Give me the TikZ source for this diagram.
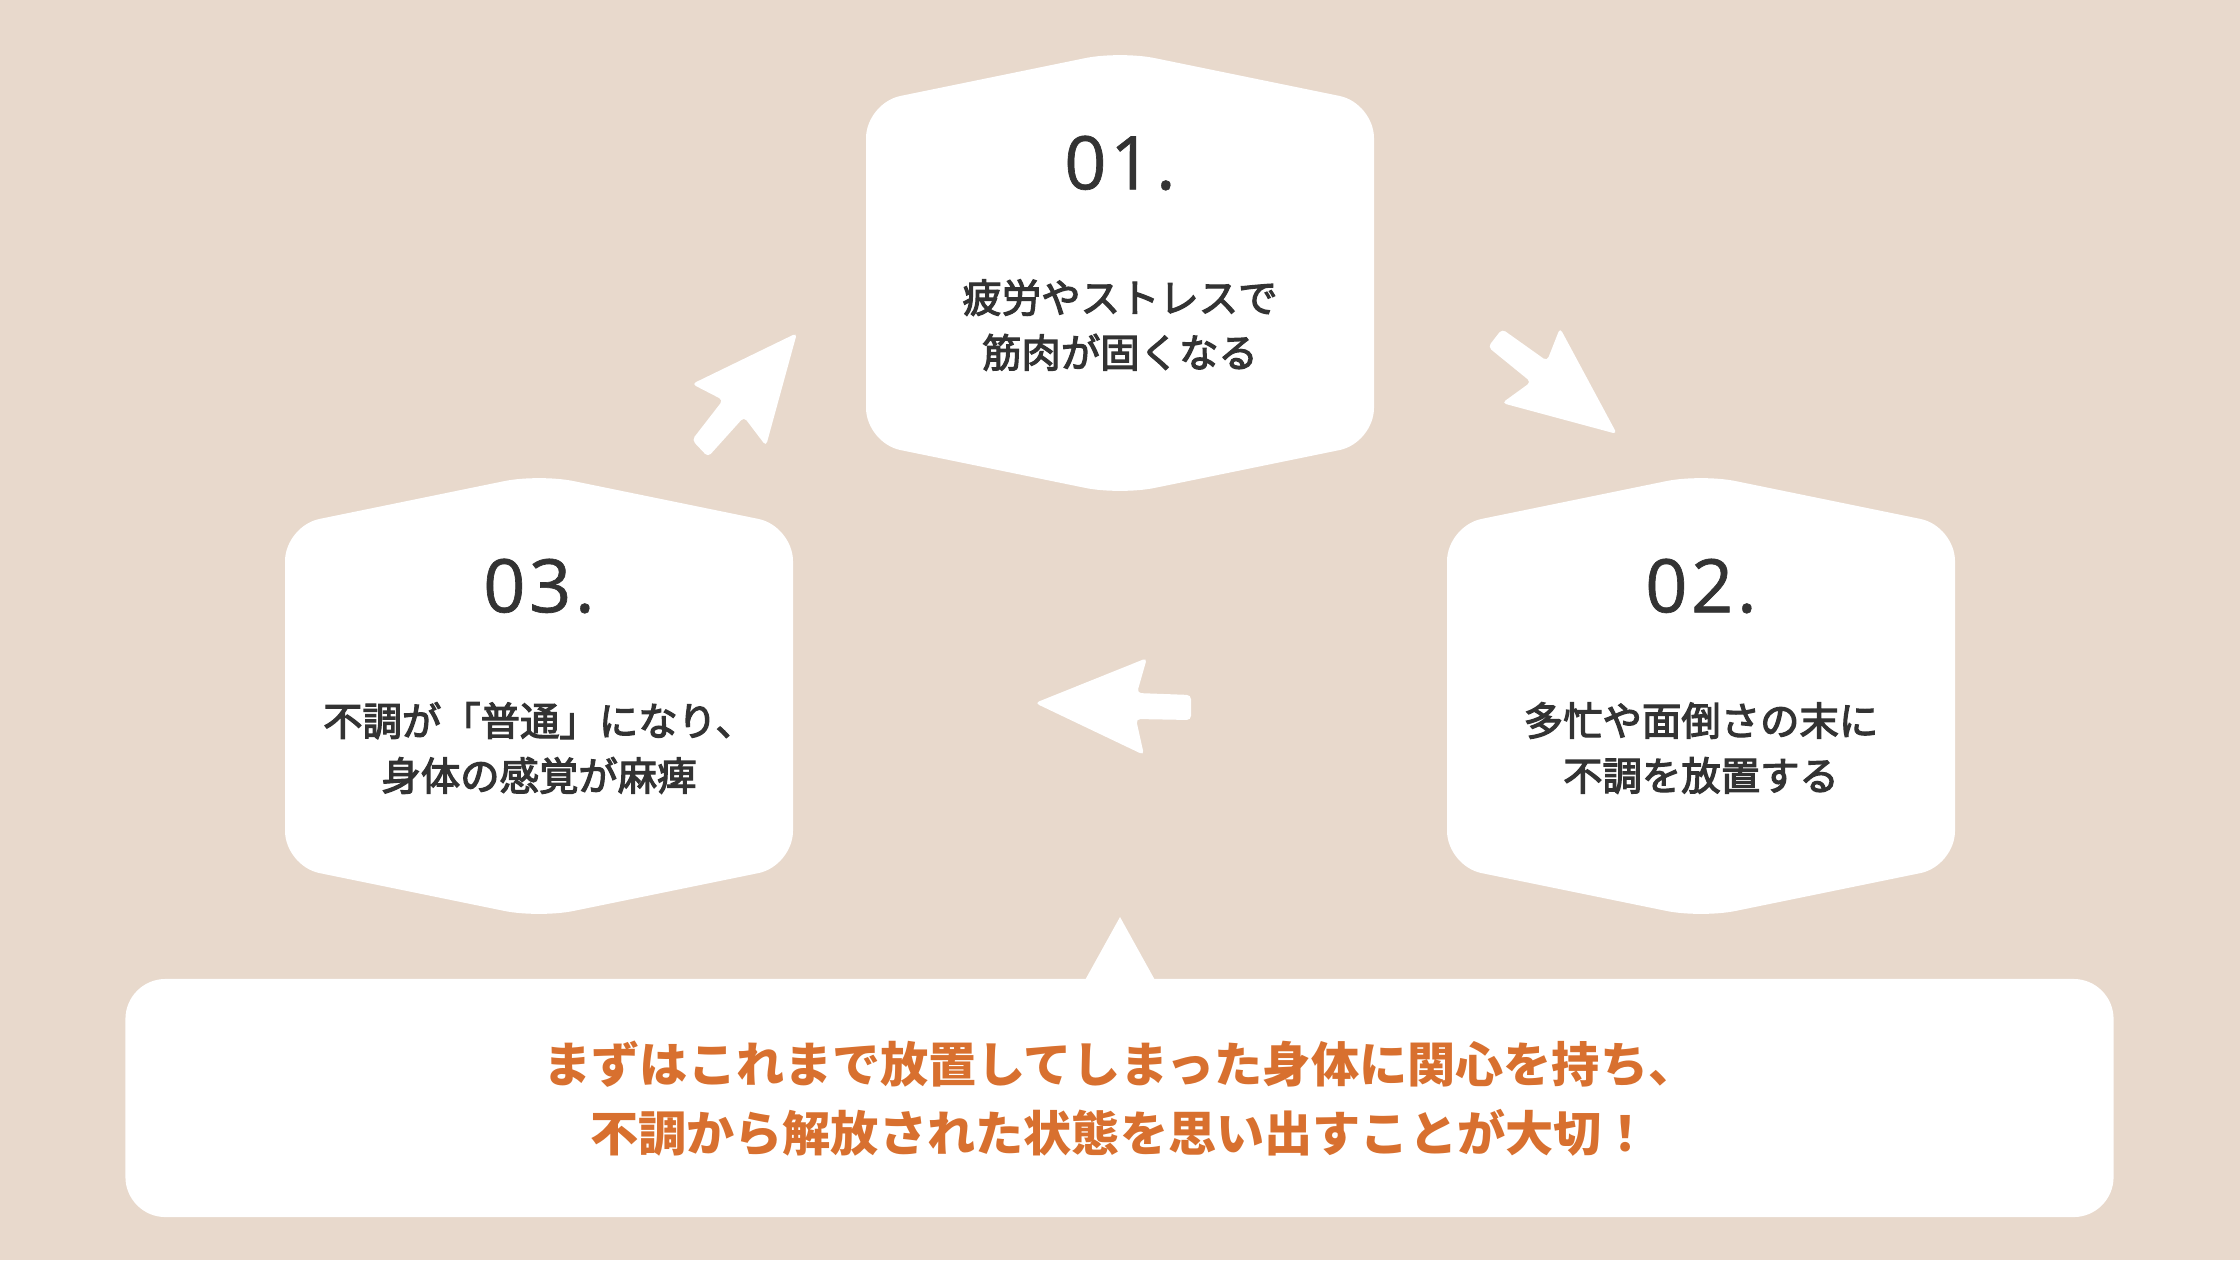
\documentclass[tikz,border=0pt]{standalone}
\usepackage{fontspec}
\newfontfamily\jpfont{Noto Sans CJK JP}
\newfontfamily\jpmedfont{Noto Sans CJK JP}[FakeBold=3]
\newfontfamily\numfont{Open Sans}[FakeBold=0.9,LetterSpace=5]
\definecolor{bgc}{HTML}{E8D9CC}
\definecolor{inkc}{HTML}{333333}
\definecolor{accentc}{HTML}{D8702F}
\newcommand\hexshape[2]{%
  \fill[hexfill] (#1,#2-222) -- (#1+254,#2-170) -- (#1+254,#2+170) -- (#1,#2+222) -- (#1-254,#2+170) -- (#1-254,#2-170) -- cycle;}
\begin{document}
\begin{tikzpicture}[x=0.01cm,y=-0.01cm,
  hexfill/.style={fill=white, rounded corners=10pt},
  blockarrow/.style={fill=white, rounded corners=1.2pt},
  numtext/.style={text=inkc, inner sep=0, font=\numfont\fontsize{21}{25}\selectfont},
  bodytext/.style={text=inkc, inner sep=0, align=center, font=\jpmedfont\fontsize{11.2}{15.6}\selectfont},
  calltext/.style={text=accentc, inner sep=0, align=center, font=\jpfont\bfseries\fontsize{13.7}{19.6}\selectfont},
  callbox/.style={fill=white, rounded corners=11.4pt, minimum width=19.87cm, minimum height=2.38cm, inner sep=0}]
\fill[bgc] (0,0) rectangle (2240,1260);
\useasboundingbox (0,0) rectangle (2240,1260);
% hexagons
\hexshape{1120}{273}
\hexshape{1701}{696}
\hexshape{539}{696}
% block arrows
\fill[blockarrow] (797,333) -- (692,384) -- (723,400) -- (692,440) -- (708,457) -- (744,417) -- (766,446) -- cycle;
\fill[blockarrow] (1502,329) -- (1547,361) -- (1560,328) -- (1617,434) -- (1502,403) -- (1531,382) -- (1488,347) -- cycle;
\fill[blockarrow] (1035,703) -- (1147,658) -- (1137,693) -- (1191,695) -- (1191,720) -- (1136,719) -- (1144,755) -- cycle;
% callout
\node[callbox] (note) at (1119.5,1098) {};
\fill[white] (1084,982) -- (1120,917) -- (1156,982) -- cycle;
% texts
\node[numtext] (n1) at (1120,163) {01.};
\node[bodytext] (t1) at (1120,325) {疲労やストレスで\\筋肉が固くなる};
\node[numtext] (n2) at (1701,586) {02.};
\node[bodytext] (t2) at (1701,748) {多忙や面倒さの末に\\不調を放置する};
\node[numtext] (n3) at (539,586) {03.};
\node[bodytext] (t3) at (539,748) {不調が「普通」になり、\\身体の感覚が麻痺};
\node[calltext] (msg) at (1120,1099) {まずはこれまで放置してしまった身体に関心を持ち、\\不調から解放された状態を思い出すことが大切！};
\end{tikzpicture}
\end{document}
